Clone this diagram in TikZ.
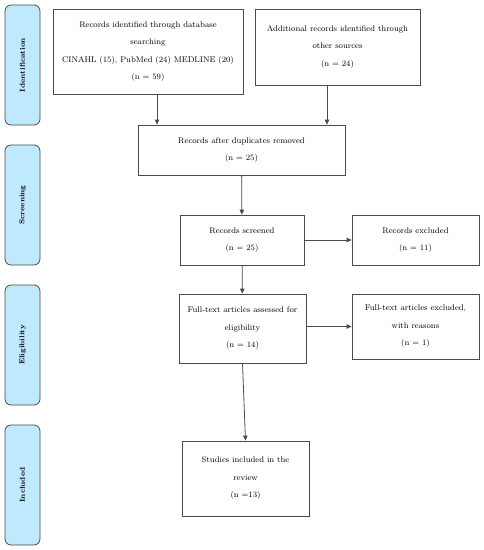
\documentclass[tikz,border=0pt]{standalone}
\usepackage{tikz}
\usetikzlibrary{arrows.meta}
\usepackage{xcolor}
\definecolor{stagefill}{HTML}{BFE9FC}
\definecolor{edgegray}{HTML}{4A4A4A}
\tikzset{
	record/.style n args={2}{%
		draw=edgegray, line width=0.8pt,
		minimum width=#1,
		minimum height=#2,
		align=center, inner sep=0pt,
		font=\fontsize{8.2}{17.4}\selectfont
	},
	stage/.style={%
		draw=edgegray, line width=0.8pt, rounded corners=6pt,
		fill=stagefill,
		minimum width=120pt, minimum height=35pt,
		rotate=90,
		font=\fontsize{7.2}{8}\selectfont\bfseries
	},
	>={Triangle[length=5pt,width=4.5pt]}
}
\begin{document}
\begin{tikzpicture}[x=1pt,y=-1pt]
		\useasboundingbox (0,0) rectangle (483,550);
		
		% phases on the left
		\node[stage] (ident) at (22.5,65) {Identification};
		\node[stage] (screen) at (22.5,205) {Screening};
		\node[stage] (elig) at (22.5,345) {Eligibility};
		\node[stage] (incl) at (22.5,485) {Included};
		
		% boxes of the flow
		\node[record={190pt}{85pt}] (database) at (148,51.5) {Records identified through database\\searching\\CINAHL (15), PubMed (24) MEDLINE (20)\\(n = 59)};
		\node[record={165pt}{76pt}] (other) at (337.5,47) {Additional records identified through\\other sources\\(n = 24)};
		\node[record={207pt}{50pt}] (dupes) at (241.5,150) {Records after duplicates removed\\(n = 25)};
		\node[record={124pt}{50pt}] (screened) at (242,240) {Records screened\\(n = 25)};
		\node[record={127pt}{50pt}] (excluded) at (415.5,240) {Records excluded\\(n = 11)};
		\node[record={127pt}{69pt}] (fulltext) at (242.5,328.5) {Full-text articles assessed for\\eligibility\\(n = 14)};
		\node[record={127pt}{65pt}] (ftexcluded) at (415.5,326.5) {Full-text articles excluded,\\with reasons\\(n = 1)};
		\node[record={127pt}{75pt}] (studies) at (245.5,478.5) {Studies included in the\\review\\(n =13)};
		
		%arrows between boxes
		\draw[->,edgegray,line width=0.8pt] ([xshift=9pt]database.south) -- ([xshift=9pt]database.south |- dupes.north);
		\draw[->,edgegray,line width=0.8pt] ([xshift=-10.5pt]other.south) -- ([xshift=-10.5pt]other.south |- dupes.north);
		\draw[->,edgegray,line width=0.8pt] (dupes) -- (screened);
		\draw[->,edgegray,line width=0.8pt] (screened) -- (excluded);
		\draw[->,edgegray,line width=0.8pt] (screened) -- (fulltext);
		\draw[->,edgegray,line width=0.8pt] (fulltext.east |- ftexcluded.west) -- (ftexcluded.west);
		\draw[->,edgegray,line width=0.8pt] (fulltext.south) -- (studies.north);
		
\end{tikzpicture}
\end{document}
